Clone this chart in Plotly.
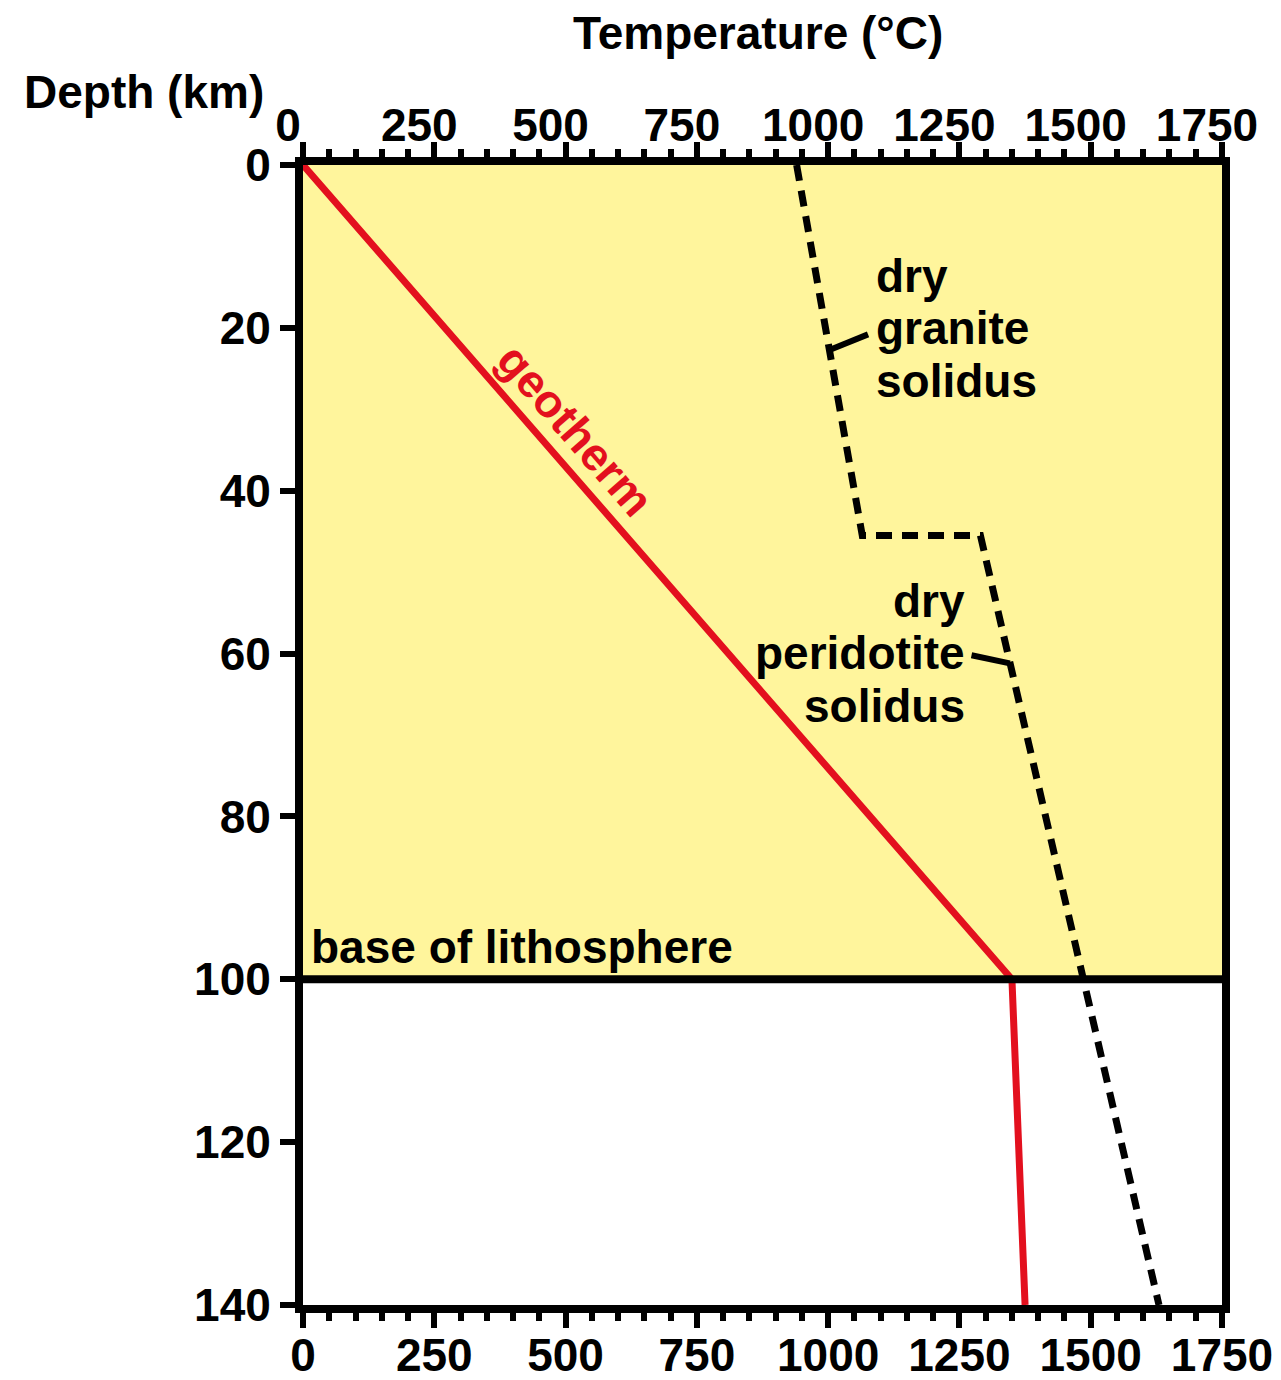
import plotly.graph_objects as go

# Continental geotherm (temperature in °C vs depth in km)
geotherm_T = [0, 1350, 1375]
geotherm_z = [0, 100, 140]

# Dry solidus curves: granite (upper crust) joined to peridotite (mantle)
solidus_T = [940, 1065, 1290, 1630]
solidus_z = [0, 45.5, 45.5, 140]

lithosphere_base_km = 100
temp_ticks = [0, 250, 500, 750, 1000, 1250, 1500, 1750]
depth_ticks = [0, 20, 40, 60, 80, 100, 120, 140]

FONT = "Arial, Liberation Sans, sans-serif"
FS = 46
BLACK = "#000000"
RED = "#e3101e"
YELLOW = "#fff59c"

fig = go.Figure()

fig.add_trace(go.Scatter(
    x=geotherm_T, y=geotherm_z, mode="lines",
    line=dict(color=RED, width=7), hoverinfo="skip", showlegend=False,
))
fig.add_trace(go.Scatter(
    x=solidus_T, y=solidus_z, mode="lines",
    line=dict(color=BLACK, width=7, dash="16px,10px"), hoverinfo="skip", showlegend=False,
))
# invisible trace that carries the top temperature axis
fig.add_trace(go.Scatter(
    x=[temp_ticks[0], temp_ticks[-1]], y=[0, 0], xaxis="x2", mode="markers",
    marker=dict(opacity=0), hoverinfo="skip", showlegend=False,
))

# lithosphere shading and its base
fig.add_shape(type="rect", x0=temp_ticks[0], x1=temp_ticks[-1], y0=0, y1=lithosphere_base_km,
              xref="x", yref="y", fillcolor=YELLOW, line=dict(width=0), layer="below")
fig.add_shape(type="line", x0=temp_ticks[0], x1=temp_ticks[-1],
              y0=lithosphere_base_km, y1=lithosphere_base_km,
              xref="x", yref="y", line=dict(color=BLACK, width=8))

# leader lines from labels to the solidus
fig.add_shape(type="line", x0=999, y0=22.8, x1=1076, y1=20.8, xref="x", yref="y",
              line=dict(color=BLACK, width=6))
fig.add_shape(type="line", x0=1273, y0=60.2, x1=1346, y1=61.2, xref="x", yref="y",
              line=dict(color=BLACK, width=6))

def label(text, x, y, xanchor="left", color=BLACK, angle=0, xref="x", yref="y"):
    fig.add_annotation(text=f"<b>{text}</b>", x=x, y=y, xref=xref, yref=yref,
                       xanchor=xanchor, yanchor="middle", showarrow=False, textangle=angle,
                       font=dict(family=FONT, size=FS, color=color))

for i, t in enumerate(["dry", "granite", "solidus"]):
    label(t, 1088, 13.6 + i * 6.45)
for i, t in enumerate(["dry", "peridotite", "solidus"]):
    label(t, 1265, 53.5 + i * 6.45, xanchor="right")
label("geotherm", 519, 32.5, xanchor="center", color=RED, angle=49)
label("base of lithosphere", 12, 96.0)

label("Temperature (°C)", 0.495, 1.116, xanchor="center", xref="paper", yref="paper")
label("Depth (km)", -0.173, 1.064, xanchor="center", xref="paper", yref="paper")

axis_common = dict(
    range=[temp_ticks[0], temp_ticks[-1]], tickvals=temp_ticks,
    ticks="outside", ticklen=15, tickwidth=6, tickcolor=BLACK,
    minor=dict(dtick=50, ticks="outside", ticklen=8, tickwidth=6, tickcolor=BLACK),
    showline=True, linewidth=8, linecolor=BLACK, showgrid=False, zeroline=False,
    automargin=False,
    tickfont=dict(family=FONT, size=FS, color=BLACK),
)

fig.update_layout(
    width=1281, height=1380,
    margin=dict(l=303, r=59, t=165, b=75),
    plot_bgcolor="white", paper_bgcolor="white",
    xaxis=dict(**axis_common, side="bottom", ticktext=[f"<b>{v}</b>" for v in temp_ticks],
               ticklabelstandoff=-12),
    xaxis2=dict(**axis_common, side="top", overlaying="x", anchor="y",
                ticktext=[f"<b>{v}</b>" for v in temp_ticks], ticklabelshift=-15,
                ticklabelstandoff=-17),
    yaxis=dict(
        range=[depth_ticks[-1], depth_ticks[0]], tickvals=depth_ticks,
        ticktext=[f"<b>{v}</b>" for v in depth_ticks],
        ticks="outside", ticklen=15, tickwidth=6, tickcolor=BLACK,
        showline=True, linewidth=8, linecolor=BLACK, mirror=True,
        showgrid=False, zeroline=False, automargin=False,
        tickfont=dict(family=FONT, size=FS, color=BLACK),
    ),
)

fig.write_html("out.html")
